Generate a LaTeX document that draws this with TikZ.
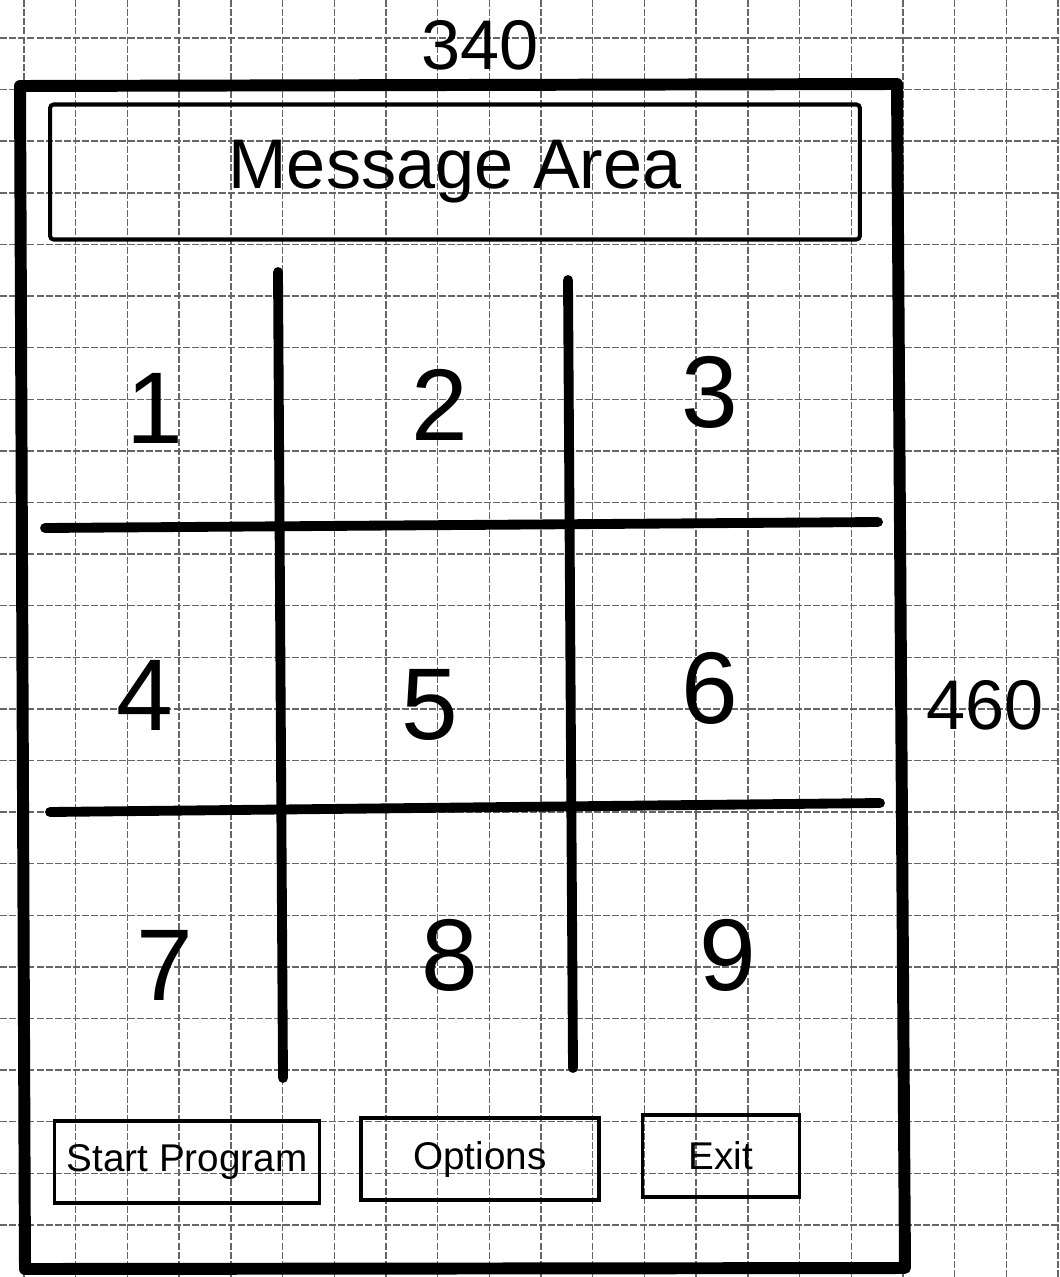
\documentclass[tikz,border=0pt]{standalone}
\usepackage{fontspec}
\setmainfont{Liberation Sans}
\usepackage{tikz}
\usetikzlibrary{positioning, calc}

\begin{document}
\begin{tikzpicture}[
x=0.02cm, y=-0.02cm,
paper/.style={draw=black!60, line width=0.8pt, dash pattern=on 4pt off 1.2pt},
frame/.style={draw, line width=6.8pt, line join=round, line cap=round},
bar/.style={draw, line width=5.6pt, line cap=round},
msgbox/.style={draw, line width=2.3pt, rectangle, rounded corners=2pt, minimum width=16.2cm, minimum height=2.7cm, inner sep=0pt},
btn/.style={draw, line width=2pt, rectangle, minimum height=1.64cm, inner sep=0pt, font=\fontsize{22}{26}\selectfont},
digit/.style={font=\fontsize{58}{64}\selectfont},
dim/.style={font=\fontsize{40}{44}\selectfont}
]

\useasboundingbox (0,0) rectangle (1060,1277);

\foreach \i in {0,...,20}
  \draw[paper] (24+51.7*\i,0) -- (24+51.7*\i,1277);
\foreach \j in {0,...,23}
  \draw[paper] (0,38+51.6*\j) -- (1060,38+51.6*\j);

\coordinate (tl) at (20,86);
\coordinate (tr) at (897,84);
\coordinate (br) at (905,1268);
\coordinate (bl) at (25,1269);
\draw[frame] (tl) -- (tr) -- (br) -- (bl) -- cycle;

\node[dim] (width) at (480,45) {340};
\node[dim] (height) at (985,705) {460};

\node[msgbox] (message) at (455,172) {};
\node[font=\fontsize{40}{44}\selectfont] (msgtext) at (message.center) {Message Area};

\coordinate (v1top) at (278,272);
\coordinate (v1bot) at (283,1078);
\coordinate (v2top) at (568,280);
\coordinate (v2bot) at (573,1068);
\coordinate (h1left) at (45,528);
\coordinate (h1right) at (878,522);
\coordinate (h2left) at (50,812);
\coordinate (h2right) at (880,803);

\draw[bar] (v1top) -- (v1bot);
\draw[bar] (v2top) -- (v2bot);
\draw[bar] (h1left) -- (h1right);
\draw[bar] (h2left) -- (h2right);

\node[digit] (c1) at (155,408) {1};
\node[digit] (c2) at (440,405) {2};
\node[digit] (c3) at (710,392) {3};
\node[digit] (c4) at (145,695) {4};
\node[digit] (c5) at (430,705) {5};
\node[digit] (c6) at (710,688) {6};
\node[digit] (c7) at (165,965) {7};
\node[digit] (c8) at (450,955) {8};
\node[digit] (c9) at (728,955) {9};

\node[btn, minimum width=5.3cm] (start) at (187,1162) {Start Program};
\node[btn, minimum width=4.76cm] (options) at (480,1159) {Options};
\node[btn, minimum width=3.14cm] (exit) at (721,1156) {Exit};

\end{tikzpicture}
\end{document}
